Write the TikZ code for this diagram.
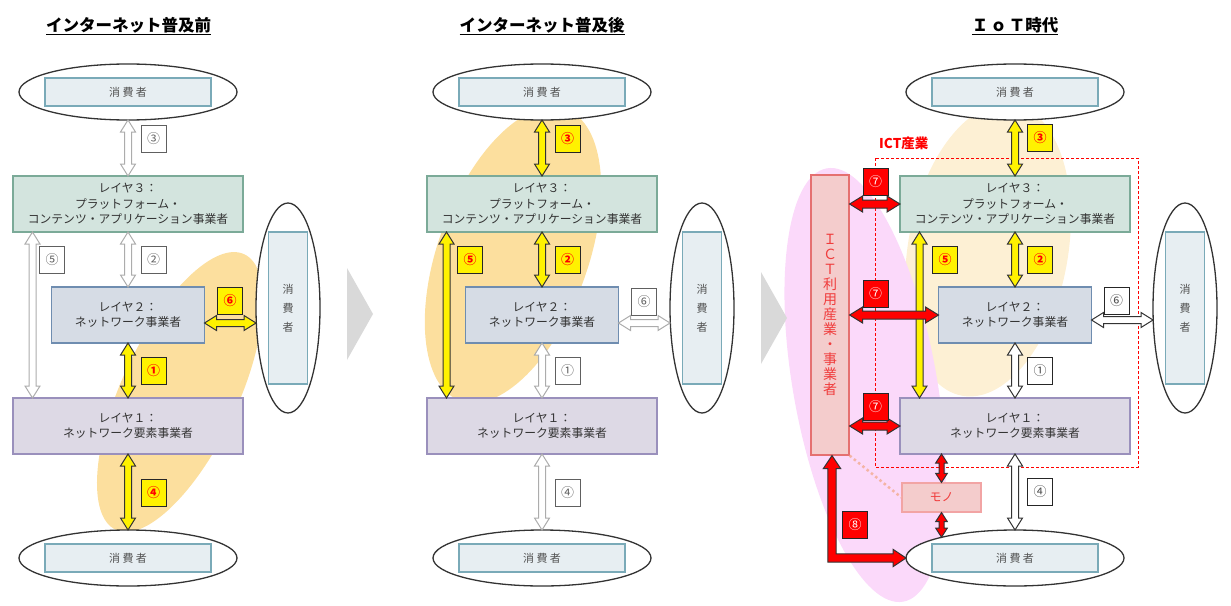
\documentclass[tikz,border=0pt]{standalone}
\usepackage{fontspec}
\setmainfont{Noto Sans CJK JP}
\usetikzlibrary{shapes.geometric, calc, positioning}
\definecolor{consfill}{HTML}{E7EEF2}
\definecolor{consline}{HTML}{7AAAB8}
\definecolor{l3fill}{HTML}{D3E4DE}
\definecolor{l3line}{HTML}{7BAA98}
\definecolor{l2fill}{HTML}{D6DCE5}
\definecolor{l2line}{HTML}{6F8DB0}
\definecolor{l1fill}{HTML}{DDD9E5}
\definecolor{l1line}{HTML}{9A90BC}
\definecolor{txtdark}{HTML}{333333}
\definecolor{txtgray}{HTML}{505050}
\definecolor{blob}{HTML}{FCDF9E}
\definecolor{paleblob}{HTML}{FDF0D4}
\definecolor{pinkblob}{HTML}{FBD9FA}
\definecolor{ictfill}{HTML}{F4CCCC}
\definecolor{ictline}{HTML}{E57070}
\definecolor{icttext}{HTML}{F03C3C}
\definecolor{monoline}{HTML}{F2A4A4}
\definecolor{dotline}{HTML}{F4B4A4}
\definecolor{chevron}{HTML}{D9D9D9}
% block arrow with two heads between two points
\newcommand{\dblarrow}[3]{%
  \draw[#1] let \p1=#2, \p2=#3,
    \n1={atan2(\y2-\y1,\x2-\x1)}, \n2={veclen(\x2-\x1,\y2-\y1)} in
    [shift={(\p1)}, rotate=\n1]
    (0pt,0pt) -- (\ahl,\ahw) -- (\ahl,\asw) -- (\n2-\ahl,\asw) -- (\n2-\ahl,\ahw)
    -- (\n2,0pt) -- (\n2-\ahl,-\ahw) -- (\n2-\ahl,-\asw) -- (\ahl,-\asw)
    -- (\ahl,-\ahw) -- cycle;}
\tikzset{
    ring/.style={ellipse, draw=black!80, fill=white, line width=1.3pt, inner sep=0pt, outer sep=0pt},
    flatring/.style={ring, minimum width=218, minimum height=56},
    tallring/.style={ring, minimum width=64, minimum height=210},
    consumer/.style={rectangle, draw=consline, fill=consfill, line width=1.2pt, outer sep=0pt,
        text=txtgray, font=\fontsize{11}{19}\selectfont, align=center},
    widecons/.style={consumer, minimum width=166, minimum height=28},
    tallcons/.style={consumer, minimum width=39, minimum height=152},
    layer/.style={rectangle, line width=1.2pt, outer sep=0pt, align=center, text=txtdark,
        font=\fontsize{11.8}{15.5}\selectfont},
    lay3/.style={layer, fill=l3fill, draw=l3line, minimum width=230, minimum height=56},
    lay2/.style={layer, fill=l2fill, draw=l2line, minimum width=153, minimum height=56},
    lay1/.style={layer, fill=l1fill, draw=l1line, minimum width=230, minimum height=56},
    title/.style={font=\fontsize{16.5}{18}\selectfont\bfseries, text=black},
    numbox/.style={rectangle, draw=gray!75!black, fill=white, line width=1pt, minimum width=25,
        minimum height=27, inner sep=0pt, text=gray!75!black, font=\fontsize{13}{13}\selectfont},
    darknum/.style={numbox, draw=black!85, text=black!70},
    yellownum/.style={numbox, fill=yellow, draw=black!85, text=red, font=\fontsize{13}{13}\selectfont\bfseries},
    rednum/.style={numbox, fill=red, draw=black!85, text=white},
    geom/.style n args={3}{/utils/exec={\def\ahw{#1pt}\def\asw{#2pt}\def\ahl{#3pt}}},
    hollow/.style={fill=white, draw=gray!65, line width=1pt, geom={7.5}{3.5}{12}},
    hollowdark/.style={hollow, draw=black!80},
    yellowarrow/.style={fill=yellow, draw=black!80, line width=1pt, geom={7.5}{3.5}{12}},
    redarrow/.style={fill=red, draw=black!80, line width=1pt, geom={8}{4}{13}},
    smallred/.style={redarrow, geom={5.8}{2.5}{9}},
    bigred/.style={fill=red, draw=black!80, line width=1pt},
    ictbox/.style={rectangle, draw=ictline, fill=ictfill, line width=1.2pt, minimum width=38,
        minimum height=280, inner sep=0pt, align=center, text=icttext, font=\fontsize{14}{15}\selectfont},
    monobox/.style={rectangle, draw=monoline, fill=ictfill, line width=1.2pt, minimum width=79,
        minimum height=29, text=icttext, font=\fontsize{12}{12}\selectfont},
    ictdash/.style={draw=red, line width=1pt, dash pattern=on 3pt off 2pt},
    ictlabel/.style={text=red, font=\fontsize{13.5}{14}\selectfont\bfseries, inner sep=0pt},
    dotlink/.style={draw=dotline, line width=2.5pt, dash pattern=on 2.5pt off 3pt},
    chev/.style={fill=chevron}
}
\begin{document}
\begin{tikzpicture}[x=1pt, y=-1pt]
\useasboundingbox (0,0) rectangle (1231,605);

% backgrounds
\fill[blob, rotate around={65:(180,392)}] (180,392) ellipse [x radius=152, y radius=58];
\fill[blob, rotate around={70:(513,255)}] (513,255) ellipse [x radius=155, y radius=75];
\fill[paleblob, rotate around={80:(988,250)}] (988,250) ellipse [x radius=148, y radius=80];
\fill[pinkblob, rotate around={100:(865,385)}] (865,385) ellipse [x radius=220, y radius=72];
\draw[ictdash] (875,158) rectangle (1138,467);
\fill[chev] (347,268) -- (373,314) -- (347,360) -- cycle;
\fill[chev] (761,272) -- (787,318) -- (761,364) -- cycle;

% titles
\node[title] (ta) at (128.5,26) {\underline{インターネット普及前}};
\node[title] (tb) at (542,26) {\underline{インターネット普及後}};
\node[title] (tc) at (1015,26) {\underline{Ｉ\hspace{2pt}ｏ\hspace{2pt}Ｔ時代}};

% the three stacks
\foreach \s/\dx in {a/0,b/414,c/887}{
  \begin{scope}[xshift=\dx]
    \node[flatring] (et\s) at (128,92) {};
    \node[widecons] (ct\s) at (128,92) {消 費 者};
    \node[flatring] (eb\s) at (128,558) {};
    \node[widecons] (cb\s) at (128,558) {消 費 者};
    \node[lay3] (l3\s) at (128,204) {レイヤ３：\\プラットフォーム・\\コンテンツ・アプリケーション事業者};
    \node[lay2] (l2\s) at (128,315) {レイヤ２：\\ネットワーク事業者};
    \node[lay1] (l1\s) at (128,426) {レイヤ１：\\ネットワーク要素事業者};
  \end{scope}
}
\node[tallring] (era) at (288,308) {};
\node[tallcons] (cra) at (288,308) {消\\費\\者};
\node[tallring] (erb) at (702,308) {};
\node[tallcons] (crb) at (702,308) {消\\費\\者};
\node[tallring] (erc) at (1185,308) {};
\node[tallcons] (crc) at (1185,308) {消\\費\\者};

% IoT side
\node[ictbox] (ict) at (830,315) {Ｉ\\Ｃ\\Ｔ\\利\\用\\産\\業\\・\\事\\業\\者};
\node[monobox] (mono) at (941.5,497.5) {モノ};
\node[ictlabel, anchor=west] (ictname) at (879,143) {ICT産業};
\draw[dotlink] (ict.south east) -- (mono.west);

% panel a
\dblarrow{hollow}{(eta.south)}{(l3a.north)}
\dblarrow{hollow}{(l3a.south)}{(l2a.north)}
\dblarrow{hollow}{($(l3a.south west)+(19.5,0)$)}{($(l1a.north west)+(19.5,0)$)}
\dblarrow{yellowarrow}{($(l2a.east)+(0,8)$)}{($(l2a.east -| era.west)+(0,8)$)}
\dblarrow{yellowarrow}{(l2a.south)}{(l1a.north)}
\dblarrow{yellowarrow}{(l1a.south)}{(eba.north)}
\node[numbox] (n3a) at (153.5,139) {③};
\node[numbox] (n2a) at (153.5,259.5) {②};
\node[numbox] (n5a) at (52,259.5) {⑤};
\node[yellownum] (n6a) at (230,300.5) {⑥};
\node[yellownum] (n1a) at (153.5,370.5) {①};
\node[yellownum] (n4a) at (153.5,492.5) {④};

% panel b
\dblarrow{yellowarrow}{(etb.south)}{(l3b.north)}
\dblarrow{yellowarrow}{(l3b.south)}{(l2b.north)}
\dblarrow{yellowarrow}{($(l3b.south west)+(19.5,0)$)}{($(l1b.north west)+(19.5,0)$)}
\dblarrow{hollow}{($(l2b.east)+(0,8)$)}{($(l2b.east -| erb.west)+(0,8)$)}
\dblarrow{hollow}{(l2b.south)}{(l1b.north)}
\dblarrow{hollow}{(l1b.south)}{(ebb.north)}
\node[yellownum] (n3b) at (567.5,139) {③};
\node[yellownum] (n2b) at (567.5,259.5) {②};
\node[yellownum] (n5b) at (470,259.5) {⑤};
\node[numbox] (n6b) at (644,301.5) {⑥};
\node[numbox] (n1b) at (567.5,370.5) {①};
\node[numbox] (n4b) at (567.5,492.5) {④};

% panel c
\dblarrow{yellowarrow}{(etc.south)}{(l3c.north)}
\dblarrow{yellowarrow}{(l3c.south)}{(l2c.north)}
\dblarrow{yellowarrow}{($(l3c.south west)+(19.5,0)$)}{($(l1c.north west)+(19.5,0)$)}
\dblarrow{hollowdark}{($(l2c.east)+(0,5)$)}{($(l2c.east -| erc.west)+(0,5)$)}
\dblarrow{hollowdark}{(l2c.south)}{(l1c.north)}
\dblarrow{hollowdark}{(l1c.south)}{(ebc.north)}
\dblarrow{redarrow}{(ict.east |- l3c.west)}{(l3c.west)}
\dblarrow{redarrow}{(ict.east |- l2c.west)}{(l2c.west)}
\dblarrow{redarrow}{(ict.east |- l1c.west)}{(l1c.west)}
\dblarrow{smallred}{(mono.north |- l1c.south)}{(mono.north)}
\dblarrow{smallred}{(mono.south)}{(mono.south |- ebc.164)}
\draw[bigred] let \p1=([xshift=2pt]ict.south), \p2=(ebc.west) in
  (\x1,\y1) -- (\x1-8.7pt,\y1-13pt) -- (\x1-4.2pt,\y1-13pt) -- (\x1-4.2pt,\y2-4.2pt)
  -- (\x2-13pt,\y2-4.2pt) -- (\x2-13pt,\y2-8.7pt) -- (\x2,\y2) -- (\x2-13pt,\y2+8.7pt)
  -- (\x2-13pt,\y2+4.2pt) -- (\x1+4.2pt,\y2+4.2pt) -- (\x1+4.2pt,\y1-13pt)
  -- (\x1+8.7pt,\y1-13pt) -- cycle;
\node[yellownum] (n3c) at (1040,138) {③};
\node[yellownum] (n2c) at (1040,259.5) {②};
\node[yellownum] (n5c) at (945,259.5) {⑤};
\node[darknum] (n6c) at (1116.5,300.5) {⑥};
\node[darknum] (n1c) at (1040,370.5) {①};
\node[darknum] (n4c) at (1040,492) {④};
\node[rednum] (n7t) at (875.5,181.5) {⑦};
\node[rednum] (n7m) at (875.5,293.5) {⑦};
\node[rednum] (n7b) at (875.5,406.5) {⑦};
\node[rednum] (n8) at (855,525) {⑧};
\end{tikzpicture}
\end{document}
